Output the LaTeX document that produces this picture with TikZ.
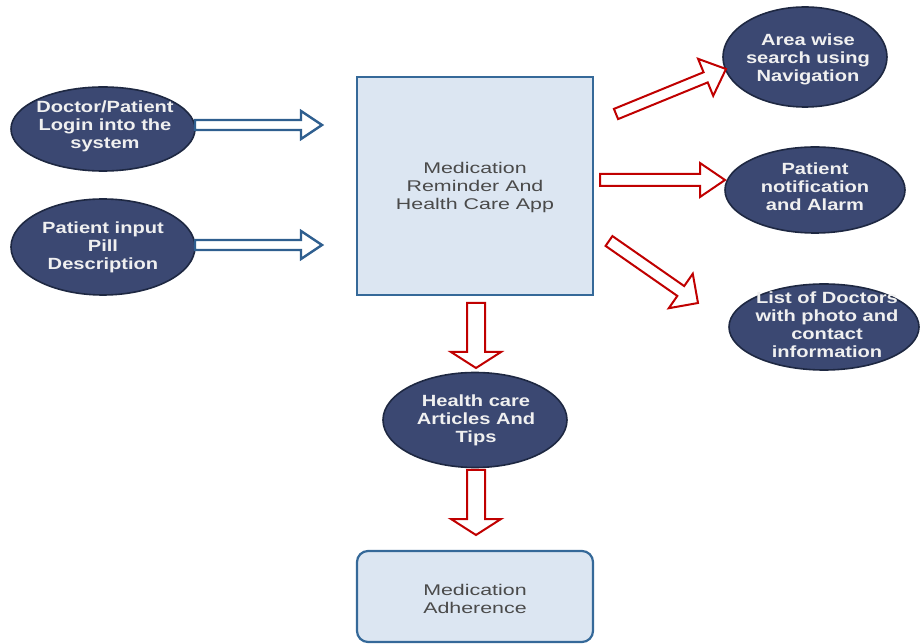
\documentclass[tikz,border=0pt]{standalone}
\usepackage{fontspec}
\setmainfont{Liberation Sans}
\newfontfamily\ovalfont[FakeStretch=1.24]{Liberation Sans Bold}
\newfontfamily\boxfont[FakeStretch=1.38]{Liberation Sans}
\usetikzlibrary{shapes.geometric,calc}
\definecolor{navy}{HTML}{3B4872}
\definecolor{navyline}{HTML}{1E2842}
\definecolor{boxfill}{HTML}{DCE6F2}
\definecolor{boxline}{HTML}{356999}
\definecolor{arrred}{HTML}{C00000}
\definecolor{arrblue}{HTML}{2F5F8F}
\definecolor{graytext}{HTML}{4A4A4A}
\newcommand\blockarr[6]{%
  \coordinate (ba) at ($(#3)!#6!(#2)$);
  \draw[#1] ($(#2)!#4!90:(#3)$) -- ($(ba)!#4!90:(#3)$) -- ($(ba)!#5!90:(#3)$) -- (#3)
     -- ($(ba)!#5!-90:(#3)$) -- ($(ba)!#4!-90:(#3)$) -- ($(#2)!#4!-90:(#3)$) -- cycle;
}
\begin{document}
\begin{tikzpicture}[x=1pt,y=-1pt,
  oval/.style={ellipse,draw=navyline,fill=navy,line width=1.6pt,inner sep=0pt},
  ovaltext/.style={text=white!94!black,font=\ovalfont\fontsize{16.2}{18}\selectfont,align=center},
  boxtext/.style={text=graytext,font=\boxfont\fontsize{15.5}{18}\selectfont,align=center},
  redarr/.style={draw=arrred,fill=white,line width=2pt,line join=miter},
  bluearr/.style={draw=arrblue,fill=white,line width=2.4pt,line join=miter}]
\useasboundingbox (0,0) rectangle (922,644);
% central box
\draw[draw=boxline,fill=boxfill,line width=2.2pt] (357,77) rectangle (593,295);
\coordinate (appc) at (475,187);
\node[boxtext] (app) at (appc) {Medication\\Reminder And\\Health Care App};
% adherence box
\draw[draw=boxline,fill=boxfill,line width=2.2pt,rounded corners=11pt] (357,551) rectangle (593,642);
\node[boxtext] (adh) at (475,599) {Medication\\Adherence};
% left ellipses
\node[oval,minimum width=184pt,minimum height=84pt] (e1) at (103,129) {};
\node[ovaltext] at (105,126) {Doctor/Patient\\Login into the\\system};
\node[oval,minimum width=184pt,minimum height=96pt] (e2) at (103,247) {};
\node[ovaltext] at (103,247) {Patient input\\Pill\\Description};
% right ellipses
\node[oval,minimum width=164pt,minimum height=100pt] (r1) at (805,57) {};
\node[ovaltext] at (808,59) {Area wise\\search using\\Navigation};
\node[oval,minimum width=180pt,minimum height=86pt] (r2) at (815,190) {};
\node[ovaltext] at (815,187) {Patient\\notification\\and Alarm};
\node[oval,minimum width=190pt,minimum height=86pt] (r3) at (824,327) {};
\node[ovaltext] at (827,325) {List of Doctors\\with photo and\\contact\\information};
% health care ellipse
\node[oval,minimum width=184pt,minimum height=95pt] (hc) at (475,420) {};
\node[ovaltext] at (476,420) {Health care\\Articles And\\Tips};
% arrow end points
\coordinate (l1s) at (195,125); \coordinate (l1t) at (322,125);
\coordinate (l2s) at (195,245); \coordinate (l2t) at (322,245);
\coordinate (d1s) at (476,303); \coordinate (d1t) at (476,368);
\coordinate (d2s) at (476,470); \coordinate (d2t) at (476,535);
\coordinate (m1s) at (600,180); \coordinate (m1t) at (725,180);
\coordinate (u1s) at (616,114); \coordinate (u1t) at (726,69);
\coordinate (w1s) at (609,241); \coordinate (w1t) at (698,303);
% blue arrows
\blockarr{bluearr}{l1s}{l1t}{5pt}{14pt}{21pt}
\blockarr{bluearr}{l2s}{l2t}{5pt}{14pt}{21pt}
% red arrows
\blockarr{redarr}{d1s}{d1t}{9pt}{25pt}{16pt}
\blockarr{redarr}{d2s}{d2t}{9pt}{25pt}{16pt}
\blockarr{redarr}{m1s}{m1t}{6pt}{17pt}{25pt}
\blockarr{redarr}{u1s}{u1t}{5.5pt}{20pt}{22pt}
\blockarr{redarr}{w1s}{w1t}{6pt}{21pt}{21pt}
\end{tikzpicture}
\end{document}
